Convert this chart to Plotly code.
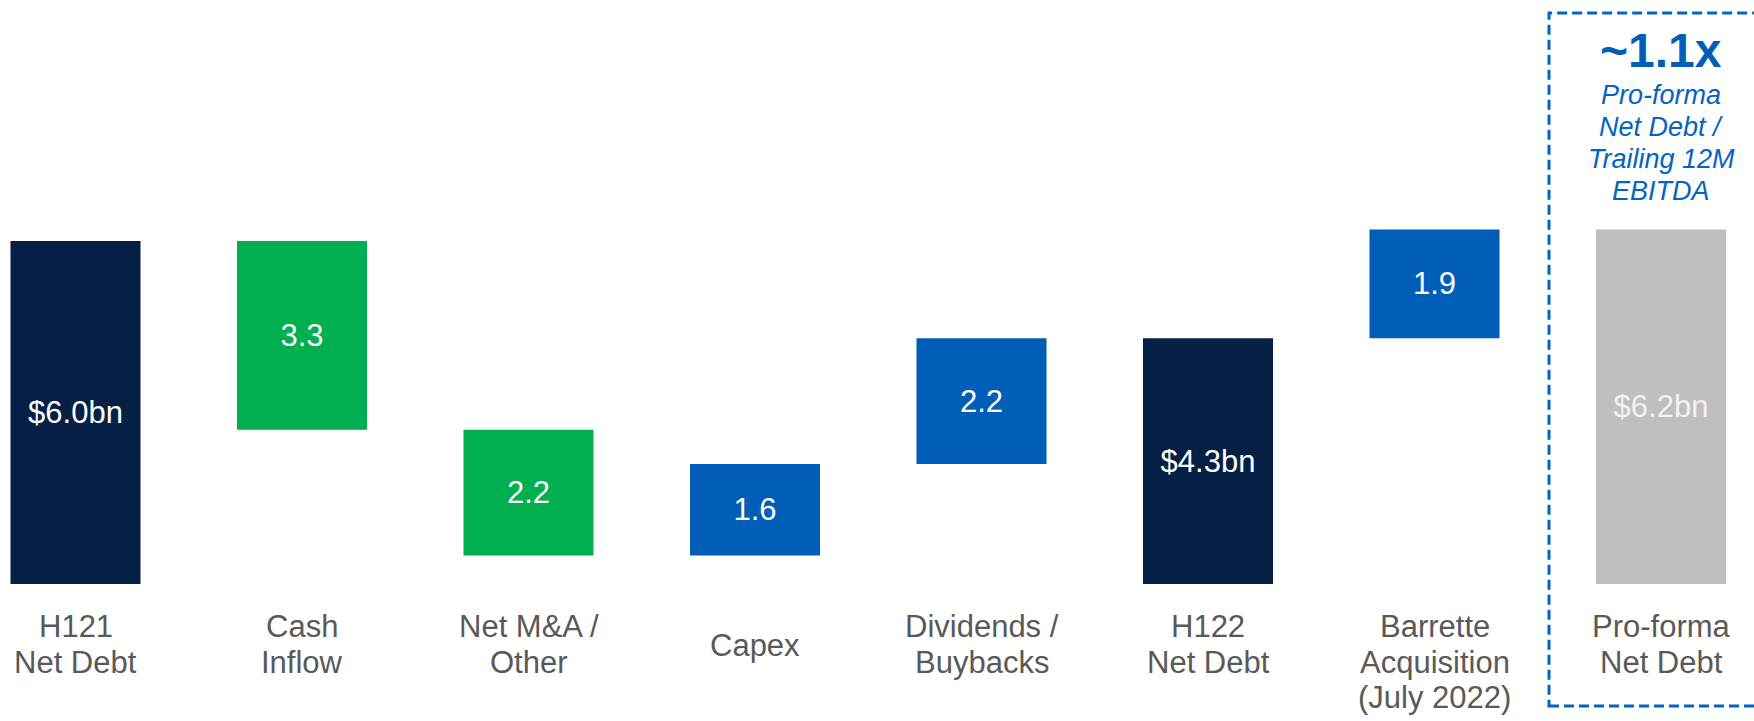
import plotly.graph_objects as go

# ---- data -------------------------------------------------------------
category_lines = [
    ["H121", "Net Debt"],
    ["Cash", "Inflow"],
    ["Net M&A /", "Other"],
    ["Capex"],
    ["Dividends /", "Buybacks"],
    ["H122", "Net Debt"],
    ["Barrette", "Acquisition", "(July 2022)"],
    ["Pro-forma", "Net Debt"],
]
measures = ["absolute", "relative", "relative", "relative",
            "relative", "total", "relative", "total"]
values = [6.0, -3.3, -2.2, 1.6, 2.2, 4.3, 1.9, 6.2]

leverage_label = "~1.1x"
leverage_note = ["Pro-forma", "Net Debt /", "Trailing 12M", "EBITDA"]

# ---- styling ----------------------------------------------------------
W, H = 1754, 721
FONT = "Liberation Sans, Arial, sans-serif"
NAVY = "#061F44"
GREEN = "#00B050"
BLUE = "#005EB8"
GREY = "#BFBFBF"
LABEL_GREY = "#595959"
ACCENT = "#0563C1"

# waterfall geometry: floating bars built from running totals
bases, heights, texts, colors, text_colors = [], [], [], [], []
running = 0.0
for i, (m, v) in enumerate(zip(measures, values)):
    last = i == len(values) - 1
    if m in ("absolute", "total"):
        bases.append(0.0)
        heights.append(v)
        running = v
        texts.append(f"${v:.1f}bn")
        colors.append(GREY if last else NAVY)
        text_colors.append("#F2F2F2" if last else "white")
    else:
        new = running + v
        bases.append(min(running, new))
        heights.append(abs(v))
        running = new
        texts.append(f"{abs(v):.1f}")
        colors.append(GREEN if v < 0 else BLUE)
        text_colors.append("white")

x_pos = list(range(len(values)))

fig = go.Figure(
    go.Bar(
        x=x_pos,
        y=heights,
        base=bases,
        width=0.574,
        marker=dict(color=colors, line=dict(width=0)),
        text=texts,
        textposition="inside",
        insidetextanchor="middle",
        textangle=0,
        constraintext="none",
        textfont=dict(family=FONT, size=31, color=text_colors),
        hoverinfo="skip",
    )
)


def py(pixel_y):
    """Convert a pixel row (from top) into paper coordinates."""
    return 1 - pixel_y / H


annotations = []

# category labels below the bars, one annotation per line
line_centers = {1: [645], 2: [626, 662], 3: [626, 662, 697]}
for i, lines in enumerate(category_lines):
    for text, yc in zip(lines, line_centers[len(lines)]):
        annotations.append(dict(
            x=i, xref="x", y=py(yc), yref="paper",
            text=text, showarrow=False, xanchor="center", yanchor="middle",
            font=dict(family=FONT, size=31, color=LABEL_GREY),
        ))

# leverage callout above the pro-forma bar
annotations.append(dict(
    x=x_pos[-1], xref="x", y=py(51), yref="paper",
    text=f"<b>{leverage_label}</b>", showarrow=False,
    xanchor="center", yanchor="middle",
    font=dict(family=FONT, size=48, color=BLUE),
))
for text, yc in zip(leverage_note, [95, 127, 159, 191]):
    annotations.append(dict(
        x=x_pos[-1], xref="x", y=py(yc), yref="paper",
        text=f"<i>{text}</i>", showarrow=False,
        xanchor="center", yanchor="middle",
        font=dict(family=FONT, size=27, color=ACCENT),
    ))

# dashed frame around the pro-forma column
shapes = [dict(
    type="rect", xref="paper", yref="paper",
    x0=1549 / W, x1=1.02, y0=py(706), y1=py(13),
    line=dict(color=ACCENT, width=3, dash="10px,5px"),
    fillcolor="rgba(0,0,0,0)", layer="above",
)]

px_per_cat = 226.5
first_center = 75.5
y_zero_px, y_unit_px = 584, 343 / 6.0

fig.update_layout(
    width=W, height=H,
    margin=dict(l=0, r=0, t=0, b=0),
    paper_bgcolor="white", plot_bgcolor="white",
    showlegend=False,
    xaxis=dict(
        visible=False,
        range=[-first_center / px_per_cat, (W - first_center) / px_per_cat],
    ),
    yaxis=dict(
        visible=False,
        range=[-(H - y_zero_px) / y_unit_px, y_zero_px / y_unit_px],
    ),
    annotations=annotations,
    shapes=shapes,
    uniformtext=dict(mode=False),
)

fig.write_html("out.html")
